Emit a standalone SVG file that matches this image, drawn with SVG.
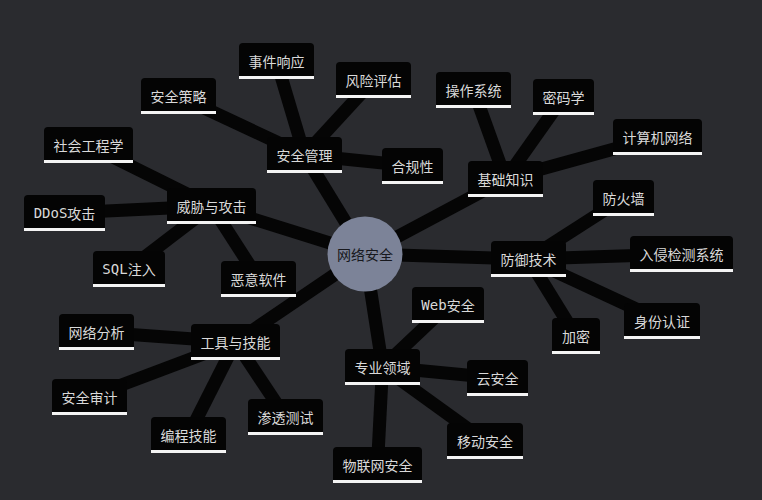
<svg xmlns="http://www.w3.org/2000/svg" width="762" height="500" viewBox="0 0 762 500">
<style>
.bg{fill:#2a2b2f}
.ln{stroke:#050505;stroke-width:13;stroke-linecap:butt}
.box{fill:#040404}
.ul{fill:#f4f4f4}
.t{font-family:"Noto Sans CJK SC",sans-serif;font-size:14px;fill:#d9d9d9;text-anchor:middle;dominant-baseline:central}
.m{font-family:"DejaVu Sans Mono",monospace}
.ct{font-family:"Noto Sans CJK SC",sans-serif;font-size:14px;fill:#17181d;text-anchor:middle;dominant-baseline:central}
</style>
<rect class="bg" x="0" y="0" width="762" height="500"/>
<g id="connectors">
<line class="ln" x1="365" y1="254" x2="304.5" y2="155"/>
<line class="ln" x1="365" y1="254" x2="211.5" y2="206"/>
<line class="ln" x1="365" y1="254" x2="505.5" y2="179"/>
<line class="ln" x1="365" y1="254" x2="528.5" y2="259"/>
<line class="ln" x1="365" y1="254" x2="235.5" y2="342"/>
<line class="ln" x1="365" y1="254" x2="382.5" y2="367"/>
<line class="ln" x1="304.5" y1="155" x2="276.5" y2="61"/>
<line class="ln" x1="304.5" y1="155" x2="373.5" y2="80"/>
<line class="ln" x1="304.5" y1="155" x2="178.5" y2="96"/>
<line class="ln" x1="304.5" y1="155" x2="412.5" y2="166"/>
<line class="ln" x1="211.5" y1="206" x2="88.5" y2="145"/>
<line class="ln" x1="211.5" y1="206" x2="64.5" y2="213"/>
<line class="ln" x1="211.5" y1="206" x2="129" y2="269"/>
<line class="ln" x1="211.5" y1="206" x2="258.5" y2="279"/>
<line class="ln" x1="505.5" y1="179" x2="473.5" y2="90"/>
<line class="ln" x1="505.5" y1="179" x2="563.5" y2="97"/>
<line class="ln" x1="505.5" y1="179" x2="657.5" y2="137"/>
<line class="ln" x1="528.5" y1="259" x2="623.5" y2="198"/>
<line class="ln" x1="528.5" y1="259" x2="681.5" y2="254"/>
<line class="ln" x1="528.5" y1="259" x2="662" y2="321"/>
<line class="ln" x1="528.5" y1="259" x2="576" y2="336"/>
<line class="ln" x1="235.5" y1="342" x2="96.5" y2="332"/>
<line class="ln" x1="235.5" y1="342" x2="89.5" y2="397"/>
<line class="ln" x1="235.5" y1="342" x2="188.5" y2="435"/>
<line class="ln" x1="235.5" y1="342" x2="285.5" y2="417"/>
<line class="ln" x1="382.5" y1="367" x2="377.5" y2="465"/>
<line class="ln" x1="382.5" y1="367" x2="448" y2="305"/>
<line class="ln" x1="382.5" y1="367" x2="497.5" y2="378"/>
<line class="ln" x1="382.5" y1="367" x2="485" y2="441"/>
</g>
<g id="center">
<circle cx="365" cy="254" r="37.5" fill="#7c8398"/>
<text class="ct" x="365" y="254">网络安全</text>
</g>
<g id="n-shijian"><rect class="box" x="239" y="43" width="75" height="36" rx="4"/><rect class="ul" x="239" y="76" width="75" height="3"/><text class="t" x="276.5" y="61">事件响应</text></g>
<g id="n-fengxian"><rect class="box" x="336" y="62" width="75" height="36" rx="4"/><rect class="ul" x="336" y="95" width="75" height="3"/><text class="t" x="373.5" y="80">风险评估</text></g>
<g id="n-celue"><rect class="box" x="141" y="78" width="75" height="36" rx="4"/><rect class="ul" x="141" y="111" width="75" height="3"/><text class="t" x="178.5" y="96">安全策略</text></g>
<g id="n-shehui"><rect class="box" x="44" y="127" width="89" height="36" rx="4"/><rect class="ul" x="44" y="160" width="89" height="3"/><text class="t" x="88.5" y="145">社会工程学</text></g>
<g id="n-guanli"><rect class="box" x="267" y="137" width="75" height="36" rx="4"/><rect class="ul" x="267" y="170" width="75" height="3"/><text class="t" x="304.5" y="155">安全管理</text></g>
<g id="n-weixie"><rect class="box" x="167" y="188" width="89" height="36" rx="4"/><rect class="ul" x="167" y="221" width="89" height="3"/><text class="t" x="211.5" y="206">威胁与攻击</text></g>
<g id="n-ddos"><rect class="box" x="24" y="195" width="81" height="36" rx="4"/><rect class="ul" x="24" y="228" width="81" height="3"/><text class="t" x="64.5" y="213"><tspan class="m">DDoS</tspan>攻击</text></g>
<g id="n-caozuo"><rect class="box" x="436" y="72" width="75" height="36" rx="4"/><rect class="ul" x="436" y="105" width="75" height="3"/><text class="t" x="473.5" y="90">操作系统</text></g>
<g id="n-mima"><rect class="box" x="533" y="79" width="61" height="36" rx="4"/><rect class="ul" x="533" y="112" width="61" height="3"/><text class="t" x="563.5" y="97">密码学</text></g>
<g id="n-jisuanji"><rect class="box" x="613" y="119" width="89" height="36" rx="4"/><rect class="ul" x="613" y="152" width="89" height="3"/><text class="t" x="657.5" y="137">计算机网络</text></g>
<g id="n-hegui"><rect class="box" x="382" y="148" width="61" height="36" rx="4"/><rect class="ul" x="382" y="181" width="61" height="3"/><text class="t" x="412.5" y="166">合规性</text></g>
<g id="n-jichu"><rect class="box" x="468" y="161" width="75" height="36" rx="4"/><rect class="ul" x="468" y="194" width="75" height="3"/><text class="t" x="505.5" y="179">基础知识</text></g>
<g id="n-fanghuo"><rect class="box" x="593" y="180" width="61" height="36" rx="4"/><rect class="ul" x="593" y="213" width="61" height="3"/><text class="t" x="623.5" y="198">防火墙</text></g>
<g id="n-fangyu"><rect class="box" x="491" y="241" width="75" height="36" rx="4"/><rect class="ul" x="491" y="274" width="75" height="3"/><text class="t" x="528.5" y="259">防御技术</text></g>
<g id="n-ruqin"><rect class="box" x="630" y="236" width="103" height="36" rx="4"/><rect class="ul" x="630" y="269" width="103" height="3"/><text class="t" x="681.5" y="254">入侵检测系统</text></g>
<g id="n-shenfen"><rect class="box" x="624" y="303" width="76" height="36" rx="4"/><rect class="ul" x="624" y="336" width="76" height="3"/><text class="t" x="662" y="321">身份认证</text></g>
<g id="n-jiami"><rect class="box" x="552" y="318" width="48" height="36" rx="4"/><rect class="ul" x="552" y="351" width="48" height="3"/><text class="t" x="576" y="336">加密</text></g>
<g id="n-sql"><rect class="box" x="93" y="251" width="72" height="36" rx="4"/><rect class="ul" x="93" y="284" width="72" height="3"/><text class="t" x="129" y="269"><tspan class="m">SQL</tspan>注入</text></g>
<g id="n-eyi"><rect class="box" x="221" y="261" width="75" height="36" rx="4"/><rect class="ul" x="221" y="294" width="75" height="3"/><text class="t" x="258.5" y="279">恶意软件</text></g>
<g id="n-fenxi"><rect class="box" x="59" y="314" width="75" height="36" rx="4"/><rect class="ul" x="59" y="347" width="75" height="3"/><text class="t" x="96.5" y="332">网络分析</text></g>
<g id="n-gongju"><rect class="box" x="191" y="324" width="89" height="36" rx="4"/><rect class="ul" x="191" y="357" width="89" height="3"/><text class="t" x="235.5" y="342">工具与技能</text></g>
<g id="n-shenji"><rect class="box" x="52" y="379" width="75" height="36" rx="4"/><rect class="ul" x="52" y="412" width="75" height="3"/><text class="t" x="89.5" y="397">安全审计</text></g>
<g id="n-biancheng"><rect class="box" x="151" y="417" width="75" height="36" rx="4"/><rect class="ul" x="151" y="450" width="75" height="3"/><text class="t" x="188.5" y="435">编程技能</text></g>
<g id="n-shentou"><rect class="box" x="248" y="399" width="75" height="36" rx="4"/><rect class="ul" x="248" y="432" width="75" height="3"/><text class="t" x="285.5" y="417">渗透测试</text></g>
<g id="n-zhuanye"><rect class="box" x="345" y="349" width="75" height="36" rx="4"/><rect class="ul" x="345" y="382" width="75" height="3"/><text class="t" x="382.5" y="367">专业领域</text></g>
<g id="n-wulian"><rect class="box" x="333" y="447" width="89" height="36" rx="4"/><rect class="ul" x="333" y="480" width="89" height="3"/><text class="t" x="377.5" y="465">物联网安全</text></g>
<g id="n-web"><rect class="box" x="412" y="287" width="72" height="36" rx="4"/><rect class="ul" x="412" y="320" width="72" height="3"/><text class="t" x="448" y="305"><tspan class="m">Web</tspan>安全</text></g>
<g id="n-yun"><rect class="box" x="467" y="360" width="61" height="36" rx="4"/><rect class="ul" x="467" y="393" width="61" height="3"/><text class="t" x="497.5" y="378">云安全</text></g>
<g id="n-yidong"><rect class="box" x="447" y="423" width="76" height="36" rx="4"/><rect class="ul" x="447" y="456" width="76" height="3"/><text class="t" x="485" y="441">移动安全</text></g>
</svg>
